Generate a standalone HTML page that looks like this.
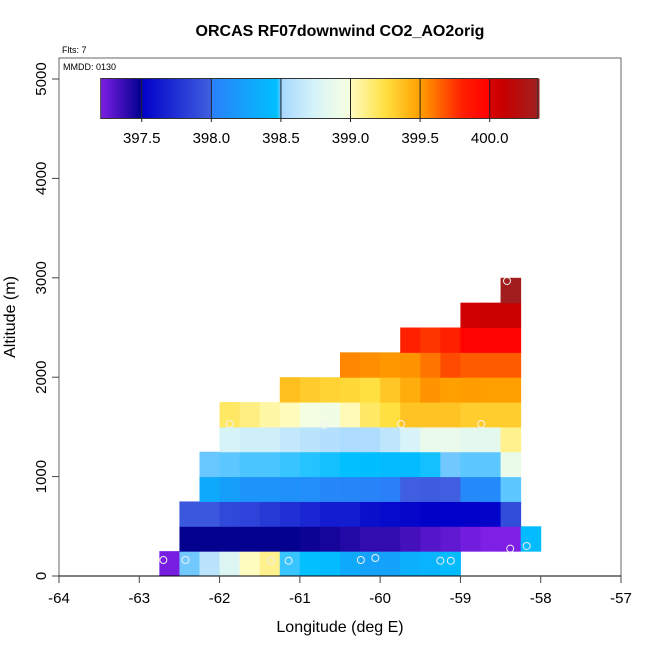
<!DOCTYPE html>
<html><head><meta charset="utf-8"><style>
body{margin:0;background:#fff}
svg{display:block;font-family:"Liberation Sans",sans-serif}
</style></head><body>
<svg id="chart" width="650" height="650" xmlns="http://www.w3.org/2000/svg">
<text x="340" y="36" text-anchor="middle" font-size="16" font-weight="bold">ORCAS RF07downwind CO2_AO2orig</text>
<text x="62" y="53" font-size="9">Flts: 7</text>
<g id="plot"></g>
<text x="63" y="70" font-size="9">MMDD: 0130</text>
<g id="cbar"></g>
<text x="340" y="632" text-anchor="middle" font-size="16">Longitude (deg E)</text>
<text transform="translate(15,317) rotate(-90)" text-anchor="middle" font-size="16">Altitude (m)</text>
</svg>
<script>
// ---- data ----
const lonStart = -62.75, lonStep = 0.25, altStep = 250;
// each row: [rowIndex, firstColumn, values...]
const row0 = [0, 0, 397.22,398.5,398.6,398.8,399.0,399.1,398.485,398.47,398.44,398.3,398.25,398.25,398.35,398.38,398.44];
const row1 = [1, 1, 397.49,397.49,397.49,397.49,397.49,397.49,397.47,397.45,397.42,397.38,397.38,397.34,397.3,397.27,397.23,397.2,397.2,398.44];
const row2 = [2, 1, 397.95,397.95,397.88,397.85,397.8,397.75,397.7,397.65,397.65,397.58,397.55,397.53,397.51,397.5,397.5,397.52,397.9];
const row3 = [3, 2, 398.3,398.22,398.15,398.15,398.12,398.1,398.05,398.04,398.02,398.0,397.99,397.98,397.99,398.07,398.07,398.495];
const row4 = [4, 2, 398.498,398.495,398.49,398.49,398.485,398.48,398.475,398.47,398.46,398.44,398.44,398.475,398.5,398.495,398.495,398.9];
const row5 = [5, 3, 398.74,398.7,398.7,398.65,398.6,398.57,398.54,398.54,398.62,398.75,398.88,398.88,398.85,398.85,399.1];
const row6 = [6, 3, 399.18,399.12,399.05,399.01,398.97,398.95,399.02,399.18,399.25,399.36,399.36,399.36,399.32,399.32,399.32];
const row7 = [7, 6, 399.38,399.33,399.3,399.28,399.25,399.35,399.45,399.53,399.5,399.51,399.5,399.5];
const row8 = [8, 9, 399.56,399.54,399.52,399.53,399.6,399.7,399.66,399.66,399.66];
const row9 = [9, 12, 399.8,399.75,399.8,399.98,399.98,399.98];
const row10 = [10, 15, 400.05,400.1,400.1];
const row11 = [11, 17, 400.33];
const rows = [row0,row1,row2,row3,row4,row5,row6,row7,row8,row9,row10,row11];
const obsLon = [-62.70,-62.425,-61.36,-61.14,-60.24,-60.06,-59.25,-59.12,-58.38,-58.175,-61.875,-60.70,-59.74,-58.74,-58.42];
const obsAlt = [161,161,154,154,161,181,154,154,275,302,1529,1519,1529,1529,2968];
const xTicks = [-64,-63,-62,-61,-60,-59,-58,-57];
const yTicks = [0,1000,2000,3000,4000,5000];
const cbTicks = [397.5,398.0,398.5,399.0,399.5,400.0];
const cbMin = 397.205, cbMax = 400.345;

// ---- colormap ----
const stops = [[397.2,"#7f1fe6"],[397.499,"#00008c"],[397.5,"#0000c8"],[397.999,"#4060e0"],[398.0,"#2a80f8"],
[398.47,"#00c0ff"],[398.5,"#70c8ff"],[398.51,"#a8d8ff"],[398.75,"#d8f4f8"],[398.999,"#f8ffe0"],[399.0,"#fffcc0"],
[399.25,"#ffe040"],[399.5,"#ffa000"],[399.8,"#ff2000"],[399.999,"#ff0000"],[400.0,"#d80000"],[400.1,"#c80000"],[400.345,"#a02020"]];
function hex(c){return [1,3,5].map(i=>parseInt(c.substr(i,2),16));}
function cmap(v){
  if(v<=stops[0][0]) return stops[0][1];
  for(let i=1;i<stops.length;i++){
    if(v<=stops[i][0]){
      const [a,ca]=stops[i-1],[b,cb]=stops[i];const t=(v-a)/(b-a);
      const A=hex(ca),B=hex(cb);
      return "rgb("+A.map((x,k)=>Math.round(x+(B[k]-x)*t)).join(",")+")";
    }
  }
  return stops[stops.length-1][1];
}
// ---- scales ----
const X=lon=>59+(lon+64)*80.2857;
const Y=alt=>576-alt*0.0994;
const CB=v=>100.7+(v-cbMin)/(cbMax-cbMin)*437;
const NS="http://www.w3.org/2000/svg";
function mk(tag,attrs,parent){const e=document.createElementNS(NS,tag);for(const k in attrs)e.setAttribute(k,attrs[k]);parent.appendChild(e);return e;}
const plot=document.getElementById('plot');
rows.forEach(r=>{
  const ri=r[0],c0=r[1];
  for(let j=2;j<r.length;j++){
    const c=c0+j-2;const l=lonStart+c*lonStep;
    const x1=X(l),x2=X(l+lonStep),y1=Y((ri+1)*altStep),y2=Y(ri*altStep);
    const e=mk('rect',{x:x1,y:y1,width:x2-x1+0.5,height:y2-y1+0.5,fill:cmap(r[j])},plot);
    
    
  }
});
obsLon.forEach((lon,i)=>{
  const e=mk('circle',{cx:X(lon),cy:Y(obsAlt[i]),r:3.5,fill:'none',stroke:'#f0f0f0','stroke-width':1},plot);
  
  
});
const fr=mk('rect',{x:59,y:58,width:562,height:518,fill:'none',stroke:'#666','stroke-width':1},plot);


const xl=mk('line',{x1:59,y1:576,x2:621,y2:576,stroke:'#000','stroke-width':1},plot);


xTicks.forEach(t=>{
  const tk=mk('line',{x1:X(t),y1:576,x2:X(t),y2:583,stroke:'#444'},plot);
  
  
  const tx=mk('text',{x:X(t),y:603,'text-anchor':'middle','font-size':15},plot);tx.textContent=t;
  
  
});
yTicks.forEach(t=>{
  const tk=mk('line',{x1:52,y1:Y(t),x2:59,y2:Y(t),stroke:'#444'},plot);
  
  
  const tx=mk('text',{transform:`translate(46,${Y(t)}) rotate(-90)`,'text-anchor':'middle','font-size':15},plot);tx.textContent=t;
  
  
});
const cb=document.getElementById('cbar');
for(let v=cbMin;v<cbMax;v+=0.01){
  const e=mk('rect',{x:CB(v),y:78.5,width:CB(v+0.01)-CB(v)+0.4,height:40,fill:cmap(v+0.005)},cb);
  
  
}
const cbf=mk('rect',{x:100.7,y:78.5,width:437,height:40,fill:'none',stroke:'#333','stroke-width':1},cb);


cbTicks.forEach(t=>{
  const tk=mk('line',{x1:CB(t),y1:78.5,x2:CB(t),y2:122,stroke:'#222'},cb);
  
  
  const tx=mk('text',{x:CB(t),y:143,'text-anchor':'middle','font-size':15},cb);tx.textContent=t.toFixed(1);
  
  
});
</script>
</body></html>
